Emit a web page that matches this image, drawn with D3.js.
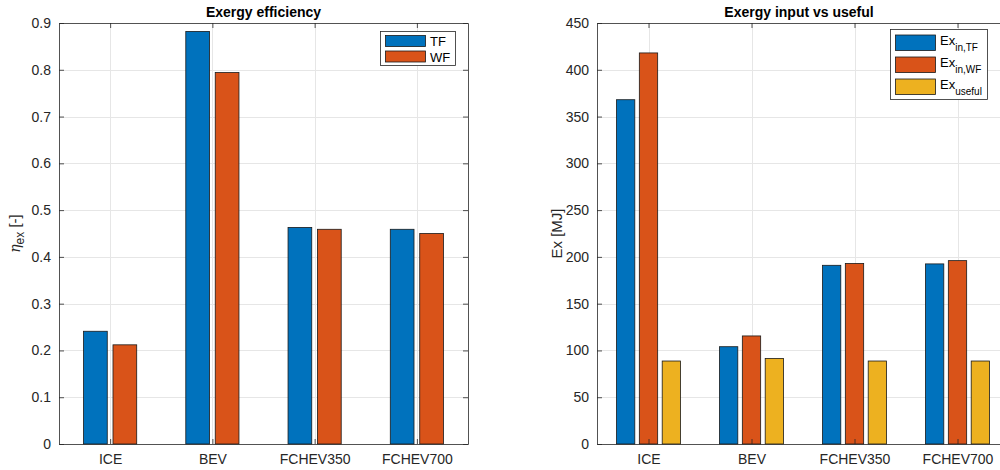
<!DOCTYPE html>
<html>
<head>
<meta charset="utf-8">
<script src="https://cdn.jsdelivr.net/npm/d3@7"></script>
<style>
  html, body { margin: 0; padding: 0; background: #fff; overflow: hidden; }
  svg { display: block; font-family: "Liberation Sans", Arial, Helvetica, sans-serif; }
</style>
</head>
<body>
<svg id="chart" width="1000" height="470"></svg>
<script>
// Vehicle categories
const categories = ["ICE", "BEV", "FCHEV350", "FCHEV700"];

// Exergy efficiency [-]
const effTF = [0.241, 0.882, 0.463, 0.459];
const effWF = [0.212, 0.794, 0.459, 0.450];

// Exergy input and useful exergy [MJ]
const exInTF = [368, 104, 191, 192.5];
const exInWF = [418, 115.5, 193, 196];
const exUseful = [88.7, 91.5, 88.7, 88.7];

const effTicks = [0, 0.1, 0.2, 0.3, 0.4, 0.5, 0.6, 0.7, 0.8, 0.9];
const exTicks = [0, 50, 100, 150, 200, 250, 300, 350, 400, 450];

const colors = ["#0072BD", "#D95319", "#EDB120"];
const axisColor = "#262626";
const gridColor = "#e6e6e6";

const svg = d3.select("#chart");

function panel(opts) {
  const g = svg.append("g");
  const x = d3.scaleLinear().domain([0.5, categories.length + 0.5]).range([opts.left, opts.left + opts.width]);
  const y = d3.scaleLinear().domain([opts.yTicks[0], opts.yTicks[opts.yTicks.length - 1]]).range([opts.bottom, opts.top]);
  const x0 = x.range()[0], x1 = x.range()[1];

  // grid
  g.append("g").selectAll("line.gy").data(opts.yTicks.slice(1, -1)).join("line")
    .attr("x1", x0).attr("x2", x1)
    .attr("y1", d => Math.round(y(d)) + 0.5).attr("y2", d => Math.round(y(d)) + 0.5)
    .attr("stroke", gridColor).attr("stroke-width", 1);
  g.append("g").selectAll("line.gx").data(categories).join("line")
    .attr("x1", (d, i) => Math.round(x(i + 1)) + 0.5).attr("x2", (d, i) => Math.round(x(i + 1)) + 0.5)
    .attr("y1", opts.top).attr("y2", opts.bottom)
    .attr("stroke", gridColor).attr("stroke-width", 1);

  // bars
  const n = opts.series.length;
  const step = opts.offset;
  opts.series.forEach((vals, s) => {
    const off = (s - (n - 1) / 2) * step;
    g.append("g").selectAll("rect").data(vals).join("rect")
      .attr("x", (d, i) => x(i + 1 + off - opts.barW / 2))
      .attr("width", (d, i) => x(i + 1 + off + opts.barW / 2) - x(i + 1 + off - opts.barW / 2))
      .attr("y", d => y(d))
      .attr("height", d => y(0) - y(d))
      .attr("fill", colors[s])
      .attr("stroke", "#1a1a1a")
      .attr("stroke-width", 0.8);
  });

  // axes (box with inward ticks)
  const tickLen = 5;
  const yAxisL = d3.axisLeft(y).tickValues(opts.yTicks).tickFormat(opts.fmt).tickSizeInner(-tickLen).tickSizeOuter(0).tickPadding(8);
  const yAxisR = d3.axisRight(y).tickValues(opts.yTicks).tickFormat("").tickSizeInner(-tickLen).tickSizeOuter(0);
  const xAxisB = d3.axisBottom(x).tickValues([1, 2, 3, 4]).tickFormat(d => categories[d - 1]).tickSizeInner(-tickLen).tickSizeOuter(0).tickPadding(10);
  const xAxisT = d3.axisTop(x).tickValues([1, 2, 3, 4]).tickFormat("").tickSizeInner(-tickLen).tickSizeOuter(0);

  const style = sel => {
    sel.select(".domain").attr("stroke", axisColor).attr("stroke-width", 0.8);
    sel.selectAll(".tick line").attr("stroke", axisColor).attr("stroke-width", 0.8);
    sel.selectAll(".tick text").attr("fill", axisColor).style("font-size", "14px")
      .style("font-family", '"Liberation Sans", Arial, sans-serif');
  };
  g.append("g").attr("transform", `translate(${x0},0)`).call(yAxisL).call(style);
  g.append("g").attr("transform", `translate(${x1},0)`).call(yAxisR).call(style);
  g.append("g").attr("transform", `translate(0,${opts.bottom})`).call(xAxisB).call(style);
  g.append("g").attr("transform", `translate(0,${opts.top})`).call(xAxisT).call(style);

  // title
  g.append("text").attr("x", (x0 + x1) / 2 + (opts.titleShift || 0)).attr("y", 17)
    .attr("text-anchor", "middle").attr("font-weight", "bold").attr("font-size", 14)
    .attr("fill", "#000").text(opts.title);

  // y label
  const yl = g.append("text")
    .attr("transform", `translate(${opts.ylabelX},${(opts.top + opts.bottom) / 2}) rotate(-90)`)
    .attr("text-anchor", "middle").attr("font-size", 15).attr("fill", axisColor);
  opts.ylabel(yl);

  // legend
  const L = opts.legend;
  g.append("rect").attr("x", L.x + 0.5).attr("y", L.y + 0.5).attr("width", L.w).attr("height", L.h)
    .attr("fill", "#fff").attr("stroke", axisColor).attr("stroke-width", 0.8);
  L.labels.forEach((lab, i) => {
    const yy = L.y + L.pad + i * L.rowH;
    g.append("rect").attr("x", L.x + 5.5).attr("y", yy + 0.5).attr("width", L.swW).attr("height", L.swH)
      .attr("fill", colors[i]).attr("stroke", "#1a1a1a").attr("stroke-width", 0.8);
    const t = g.append("text").attr("x", L.x + 5 + L.swW + 5).attr("y", yy + L.textDy)
      .attr("font-size", 13).attr("fill", "#000");
    lab(t);
  });
}

panel({
  left: 59, width: 409, top: 23, bottom: 444,
  yTicks: effTicks, fmt: d3.format(".1~f"),
  series: [effTF, effWF], offset: 0.288, barW: 0.232,
  title: "Exergy efficiency",
  ylabelX: 20,
  ylabel: t => {
    t.append("tspan").attr("font-style", "italic").attr("font-family", "'DejaVu Serif', serif").attr("font-size", 14).text("η");
    t.append("tspan").attr("font-size", 12).attr("dy", 4).text("ex");
    t.append("tspan").attr("dy", -4).text(" [-]");
  },
  legend: {
    x: 380, y: 31, w: 75, h: 34, pad: 4, rowH: 15.5, swW: 40, swH: 11, textDy: 11,
    labels: [t => t.text("TF"), t => t.text("WF")]
  }
});

panel({
  left: 597, width: 412, top: 23, bottom: 444,
  yTicks: exTicks, fmt: d3.format("d"),
  series: [exInTF, exInWF, exUseful], offset: 0.222, barW: 0.178,
  title: "Exergy input vs useful",
  titleShift: -4,
  ylabelX: 562,
  ylabel: t => t.text("Ex [MJ]"),
  legend: {
    x: 890, y: 29, w: 97, h: 70, pad: 5.5, rowH: 22, swW: 40, swH: 15.5, textDy: 10,
    labels: [
      t => { t.append("tspan").text("Ex"); t.append("tspan").attr("font-size", 10).attr("dy", 6).text("in,TF"); },
      t => { t.append("tspan").text("Ex"); t.append("tspan").attr("font-size", 10).attr("dy", 6).text("in,WF"); },
      t => { t.append("tspan").text("Ex"); t.append("tspan").attr("font-size", 10).attr("dy", 6).text("useful"); }
    ]
  }
});
</script>
</body>
</html>
